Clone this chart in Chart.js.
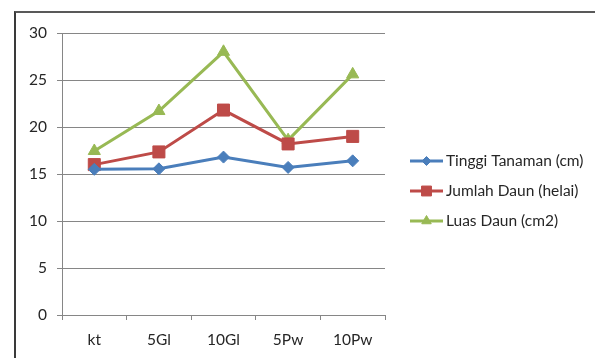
<!DOCTYPE html>
<html>
<head>
<meta charset="utf-8">
<script src="https://cdn.jsdelivr.net/npm/chart.js@4.4.1/dist/chart.umd.min.js"></script>
<style>
  html, body { margin: 0; padding: 0; background: #fff; }
  #wrap { position: relative; width: 595px; height: 358px; overflow: hidden; }
  #frame { position: absolute; left: 14px; top: 11px; width: 600px; height: 400px;
           border-left: 2px solid #3a3a3a; border-top: 2px solid #595959; }
  #chart { position: absolute; left: 0; top: 0; }
</style>
</head>
<body>
<div id="wrap">
  <div id="frame"></div>
  <canvas id="chart" width="595" height="358"></canvas>
</div>
<script>
var categories = ["kt", "5Gl", "10Gl", "5Pw", "10Pw"];
var tinggiTanaman = [15.5, 15.55, 16.8, 15.7, 16.4];
var jumlahDaun = [16.0, 17.35, 21.8, 18.2, 19.0];
var luasDaun = [17.45, 21.7, 28.0, 18.6, 25.6];

var seriesNames = ["Tinggi Tanaman (cm)", "Jumlah Daun (helai)", "Luas Daun (cm2)"];
var yMin = 0, yMax = 30, yStep = 5;

var fontFamily = "Lato, 'Open Sans', sans-serif";
var axisGray = "#868686";
var textColor = "#262626";

function makeSet(label, values, color, style, radius) {
  return {
    label: label,
    data: values,
    borderColor: color,
    backgroundColor: color,
    borderWidth: 3,
    pointStyle: style,
    pointRadius: radius,
    pointHoverRadius: radius,
    pointBorderWidth: 1,
    tension: 0
  };
}

// Excel style legend to the right: line + marker + label
var sideLegend = {
  id: 'sideLegend',
  afterDraw: function(chart) {
    var ctx = chart.ctx;
    var area = chart.chartArea;
    var x0 = area.right + 25;
    var yMid = (area.top + area.bottom) / 2 + 17;
    var n = chart.data.datasets.length;
    chart.data.datasets.forEach(function(ds, i) {
      var y = yMid + (i - (n - 1) / 2) * 30;
      ctx.save();
      ctx.strokeStyle = ds.borderColor;
      ctx.lineWidth = 3;
      ctx.beginPath();
      ctx.moveTo(x0, y);
      ctx.lineTo(x0 + 33, y);
      ctx.stroke();
      ctx.fillStyle = ds.backgroundColor;
      ctx.lineWidth = 1;
      Chart.helpers.drawPoint(ctx, {
        pointStyle: ds.pointStyle,
        radius: ds.pointRadius - 1.5,
        rotation: 0,
        borderWidth: 1
      }, x0 + 16.5, y);
      ctx.fillStyle = textColor;
      ctx.font = "15.5px " + fontFamily;
      ctx.textAlign = 'left';
      ctx.textBaseline = 'middle';
      ctx.fillText(ds.label, x0 + 36, y);
      ctx.restore();
    });
  }
};

new Chart('chart', {
  type: 'line',
  data: {
    labels: categories,
    datasets: [
      makeSet(seriesNames[0], tinggiTanaman, "#4A7EBB", 'rectRot', 6),
      makeSet(seriesNames[1], jumlahDaun, "#BE4B48", 'rect', 8.5),
      makeSet(seriesNames[2], luasDaun, "#98B954", 'triangle', 7)
    ]
  },
  options: {
    responsive: false,
    animation: false,
    layout: { padding: { top: 33, left: 0, right: 210, bottom: 0 } },
    plugins: {
      tooltip: { enabled: false },
      legend: { display: false }
    },
    scales: {
      x: {
        offset: true,
        afterFit: function(s) { s.height = 43; },
        grid: { offset: true, drawOnChartArea: false, drawTicks: true, tickLength: 5, color: axisGray },
        border: { color: axisGray },
        ticks: { padding: 11, color: textColor, font: { family: fontFamily, size: 15.5 } }
      },
      y: {
        min: yMin,
        max: yMax,
        afterFit: function(s) { s.width = 62; },
        grid: { color: axisGray, tickLength: 5 },
        border: { color: axisGray },
        ticks: { stepSize: yStep, padding: 10, color: textColor, font: { family: fontFamily, size: 15.5 } }
      }
    }
  },
  plugins: [sideLegend]
});
</script>
</body>
</html>
